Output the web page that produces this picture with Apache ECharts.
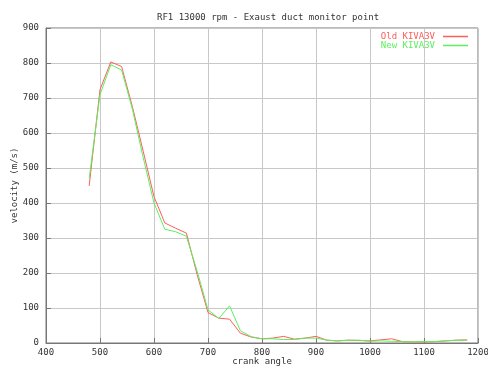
<!DOCTYPE html>
<html><head><meta charset="utf-8">
<script src="https://cdn.jsdelivr.net/npm/echarts@6/dist/echarts.min.js"></script>
<style>html,body{margin:0;padding:0;background:#fff}#c{width:488px;height:370px}</style>
</head><body><div id="c"></div>
<script>
const crankAngles = [480,500,520,540,560,580,600,620,640,660,680,700,720,740,760,780,800,820,840,860,880,900,920,940,960,980,1000,1020,1040,1060,1080,1100,1120,1140,1160,1180];
const oldKiva = [449,724,803,790,675,548,418,343,328,314,195,87,71,68,28,17,12,14,19,11,14,19,8,6,8,7,6,9,12,4,3,3,4,6,8,9];
const newKiva = [470,710,795,780,668,530,400,325,318,305,205,95,70,106,35,18,12,12,10,10,14,14,8,6,8,8,5,6,5,4,3,4,4,6,8,8];
const seriesNames = ['Old KIVA3V','New KIVA3V'];
const titleText = 'RF1 13000 rpm - Exaust duct monitor point';
const xName = 'crank angle';
const yName = 'velocity (m/s)';

const font = 'DejaVu Sans Mono';
const txt = '#333';
const redC = '#ff5c5c';
const greenC = '#5cf05c';
const chart = echarts.init(document.getElementById('c'), null, {renderer:'canvas'});
chart.setOption({
  animation:false,
  backgroundColor:'#fff',
  title:{text:titleText,left:152,top:8,textStyle:{fontFamily:font,fontSize:9,fontWeight:'normal',color:txt}},
  legend:{orient:'vertical',right:15,top:27,align:'right',itemGap:0,itemWidth:25,itemHeight:1.5,icon:'rect',
    data:[{name:seriesNames[0],textStyle:{color:redC},itemStyle:{color:redC}},{name:seriesNames[1],textStyle:{color:greenC},itemStyle:{color:greenC}}],
    textStyle:{fontFamily:font,fontSize:9,padding:[0,3,0,0],lineHeight:8}},
  grid:{left:46,right:10,top:28,bottom:27,show:true,borderColor:'#777',borderWidth:1,outerBoundsMode:'none',containLabel:false},
  xAxis:{type:'value',min:400,max:1200,interval:100,name:xName,nameLocation:'middle',nameGap:14,nameMoveOverlap:false,
    nameTextStyle:{fontFamily:font,fontSize:9,color:txt},
    axisLine:{lineStyle:{color:'#777'}},axisTick:{inside:true,length:5,lineStyle:{color:'#777'}},
    axisLabel:{fontFamily:font,fontSize:9,color:txt,margin:5,formatter:v=>String(v)},
    splitLine:{lineStyle:{color:'#c8c8c8',width:1}}},
  yAxis:{type:'value',min:0,max:900,interval:100,name:yName,nameLocation:'middle',nameGap:27,nameRotate:90,nameMoveOverlap:false,
    nameTextStyle:{fontFamily:font,fontSize:9,color:txt},
    axisLine:{show:true,lineStyle:{color:'#777'}},axisTick:{show:true,inside:true,length:5,lineStyle:{color:'#777'}},
    axisLabel:{fontFamily:font,fontSize:9,color:txt,margin:7,formatter:v=>String(v)},
    splitLine:{lineStyle:{color:'#c8c8c8',width:1}}},
  series:[
    {name:seriesNames[0],type:'line',data:crankAngles.map((x,i)=>[x,oldKiva[i]]),showSymbol:false,lineStyle:{color:redC,width:1},itemStyle:{color:redC}},
    {name:seriesNames[1],type:'line',data:crankAngles.map((x,i)=>[x,newKiva[i]]),showSymbol:false,lineStyle:{color:greenC,width:1},itemStyle:{color:greenC}}
  ]
});
</script></body></html>
